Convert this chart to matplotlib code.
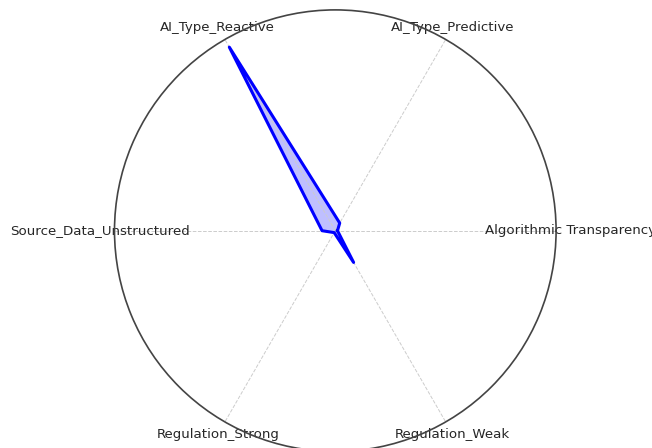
import numpy as np
import matplotlib
matplotlib.use('Agg')
import matplotlib.pyplot as plt

categories = ['Algorithmic Transparency', 'AI_Type_Predictive', 'AI_Type_Reactive',
              'Source_Data_Unstructured', 'Regulation_Strong', 'Regulation_Weak']
values = [0.01, 0.04, 0.96, 0.06, 0.01, 0.166]

n = len(categories)
angles = np.linspace(0, 2 * np.pi, n, endpoint=False).tolist()
vals = values + values[:1]
angs = angles + angles[:1]

fig = plt.figure(figsize=(6.52, 4.48), dpi=100)
ax = fig.add_axes([0.1756, -0.0078, 0.6773, 0.9857], polar=True)

ax.plot(angs, vals, color='blue', linewidth=2.2)
ax.fill(angs, vals, color='blue', alpha=0.25)

ax.set_ylim(0, 1)
ax.set_yticks([])
ax.set_xticks(angles)
ax.set_xticklabels(categories, fontsize=9.6, color='#262626')
ax.tick_params(axis='x', pad=-0.3)
ax.xaxis.grid(True, color='#cccccc', linestyle='--', linewidth=0.7)
ax.yaxis.grid(False)
ax.spines['polar'].set_color('#444444')
ax.spines['polar'].set_linewidth(1.2)

fig.savefig('out.png', dpi=100)
